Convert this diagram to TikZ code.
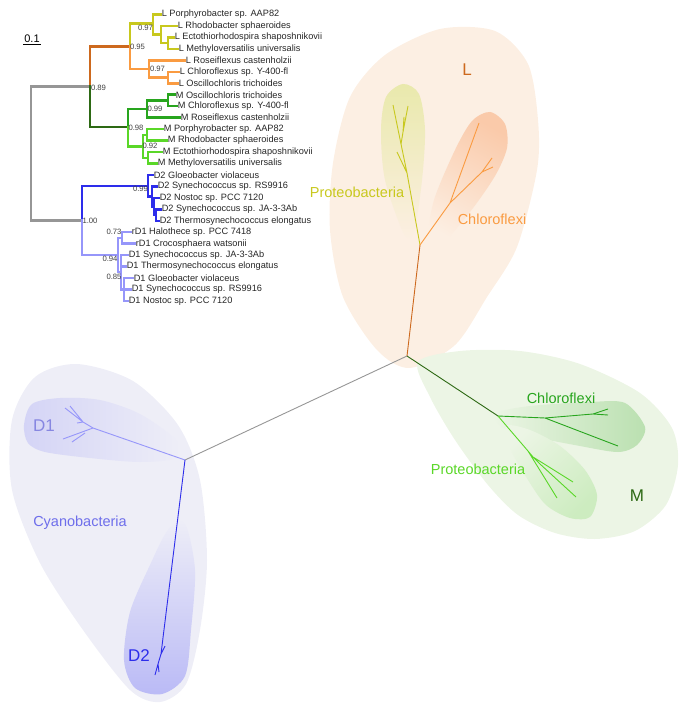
\documentclass[tikz,border=0pt]{standalone}
\usepackage{fontspec}
\setmainfont{Liberation Sans}
% Màu
\definecolor{xam}{RGB}{150,150,150}
\definecolor{Lthan}{RGB}{205,105,30}
\definecolor{Lvang}{RGB}{200,200,30}
\definecolor{Lcam}{RGB}{250,155,65}
\definecolor{Mthan}{RGB}{45,105,20}
\definecolor{Mxanh}{RGB}{40,165,30}
\definecolor{Mla}{RGB}{90,215,40}
\definecolor{Dhai}{RGB}{45,45,235}
\definecolor{Dmot}{RGB}{150,150,250}
\definecolor{Lnen}{RGB}{252,239,227}
\definecolor{Lnenvang}{RGB}{233,233,172}
\definecolor{Lnencam}{RGB}{250,202,170}
\definecolor{Mnen}{RGB}{236,245,229}
\definecolor{Mnenxanh}{RGB}{186,224,176}
\definecolor{Mnenla}{RGB}{205,236,192}
\definecolor{Cnen}{RGB}{238,238,247}
\definecolor{Dnenmot}{RGB}{212,212,246}
\definecolor{Dnenhai}{RGB}{186,186,246}
\begin{document}
\begin{tikzpicture}[x=1pt,y=-1pt,
    nhanh/.style={line width=2.5pt,line cap=rect},
    canh/.style={line width=0.9pt},
    la/.style={anchor=west,inner sep=0.6pt,text=black!85,font=\fontsize{9.2}{10}\selectfont},
    ho/.style={inner sep=0pt,text=black!75,font=\fontsize{7.7}{8}\selectfont},
    nhom/.style={inner sep=0pt,font=\fontsize{14.5}{16}\selectfont},
    chu/.style={inner sep=0pt,font=\fontsize{17}{18}\selectfont}]
    \useasboundingbox (0,0) rectangle (685,711);

    % Các vùng nền
    \fill[Lnen] plot[smooth cycle] coordinates {(410,368) (377,350) (343,297) (330,230) (333,163) (350,97) (385,55) (440,29) (495,31) (528,64) (538,120) (537,170) (517,247) (487,297) (455,345)};
    \shade[top color=Lnenvang,bottom color=Lnen] plot[smooth cycle] coordinates {(403,84) (419,94) (425,130) (422,180) (414,232) (404,234) (385,180) (381,130) (386,97)};
    \shade[top color=Lnencam,bottom color=Lnen,shading angle=-29] plot[smooth cycle] coordinates {(490,112) (505,124) (507,148) (495,176) (470,212) (440,246) (428,240) (434,200) (455,150) (472,121)};
    \fill[Mnen] plot[smooth cycle] coordinates {(418,362) (460,351) (520,351) (580,364) (640,393) (672,428) (678,465) (666,505) (635,531) (595,539) (555,533) (518,515) (488,485) (455,440) (430,397)};
    \shade[left color=Mnen,right color=Mnenxanh] plot[smooth cycle] coordinates {(645,427) (637,445) (618,452) (580,446) (530,436) (500,426) (497,413) (530,406) (590,402) (625,403)};
    \shade[top color=Mnen,bottom color=Mnenla,shading angle=45] plot[smooth cycle] coordinates {(590,517) (570,518) (546,505) (528,480) (511,450) (506,426) (530,430) (560,446) (585,470) (597,495)};
    \fill[Cnen] plot[smooth cycle] coordinates {(77,364) (133,381) (178,425) (200,480) (207,560) (200,630) (186,684) (160,702) (130,690) (83,630) (40,563) (12,490) (12,420) (35,377)};
    \shade[left color=Dnenmot,right color=Cnen] plot[smooth cycle] coordinates {(24,425) (32,404) (60,398) (100,400) (140,414) (176,440) (176,458) (140,462) (90,458) (45,452) (28,443)};
    \shade[top color=Cnen,bottom color=Dnenhai] plot[smooth cycle] coordinates {(162,694) (135,688) (124,660) (130,612) (150,565) (168,530) (185,524) (195,570) (191,630) (185,676)};

    % Cây có gốc: tên các trình tự
    \foreach \i/\x/\ten in {0/161/L Porphyrobacter sp. AAP82,1/177/L Rhodobacter sphaeroides,
        2/174/L Ectothiorhodospira shaposhnikovii,3/178/L Methyloversatilis universalis,
        4/185/L Roseiflexus castenholzii,5/179/L Chloroflexus sp. Y-400-fl,
        6/178/L Oscillochloris trichoides,7/175/M Oscillochloris trichoides,
        8/177/M Chloroflexus sp. Y-400-fl,9/180/M Roseiflexus castenholzii,
        10/163/M Porphyrobacter sp. AAP82,11/167/M Rhodobacter sphaeroides,
        12/162/M Ectothiorhodospira shaposhnikovii,13/157/M Methyloversatilis universalis,
        14/153/D2 Gloeobacter violaceus,15/157/D2 Synechococcus sp. RS9916,
        16/159/D2 Nostoc sp. PCC 7120,17/161/D2 Synechococcus sp. JA-3-3Ab,
        18/159/D2 Thermosynechococcus elongatus,19/131/rD1 Halothece sp. PCC 7418,
        20/135/rD1 Crocosphaera watsonii,21/128/D1 Synechococcus sp. JA-3-3Ab,
        22/126/D1 Thermosynechococcus elongatus,23/133/D1 Gloeobacter violaceus,
        24/131/D1 Synechococcus sp. RS9916,25/128/D1 Nostoc sp. PCC 7120}
    \node[la] (t\i) at (\x,{14.5+11.46*\i}) {\ten};

    % Các nút trong
    \coordinate (r) at (31,153.5);
    \coordinate (nX) at (90,86.7);
    \coordinate (nL) at (130,46.3);
    \coordinate (nLy) at (153,23.7);
    \coordinate (nLy2) at (161,34.6);
    \coordinate (nLy3) at (168,43.2);
    \coordinate (nLo) at (149,69);
    \coordinate (nLo2) at (168,77.5);
    \coordinate (nM) at (128,127);
    \coordinate (nMc) at (147,108.9);
    \coordinate (nMc2) at (168,100.4);
    \coordinate (nMp) at (143,146.3);
    \coordinate (nMp1) at (147,134.8);
    \coordinate (nMp2) at (148,157.8);
    \coordinate (nCy) at (82,220.4);
    \coordinate (nD2) at (148,185.8);
    \coordinate (nD2b) at (152,196.6);
    \coordinate (nD2c) at (154,206.6);
    \coordinate (nD2d) at (156,215.1);
    \coordinate (nD1) at (118,255);
    \coordinate (nrD1) at (122,238);
    \coordinate (nD1b) at (121,272);
    \coordinate (nD1c) at (124,289.5);

    % Vẽ các nhánh
    \foreach \a/\b in {r/nX,r/nCy} \draw[nhanh,xam] (\a) |- (\b);
    \draw[nhanh,Lthan] (nX) |- (nL);
    \draw[nhanh,Mthan] (nX) |- (nM);
    \foreach \a/\b in {nL/nLy,nLy/t0.west,nLy/nLy2,nLy2/t1.west,nLy2/nLy3,nLy3/t2.west,nLy3/t3.west}
    \draw[nhanh,Lvang] (\a) |- (\b);
    \foreach \a/\b in {nL/nLo,nLo/t4.west,nLo/nLo2,nLo2/t5.west,nLo2/t6.west}
    \draw[nhanh,Lcam] (\a) |- (\b);
    \foreach \a/\b in {nM/nMc,nMc/nMc2,nMc2/t7.west,nMc2/t8.west,nMc/t9.west}
    \draw[nhanh,Mxanh] (\a) |- (\b);
    \foreach \a/\b in {nM/nMp,nMp/nMp1,nMp1/t10.west,nMp1/t11.west,nMp/nMp2,nMp2/t12.west,nMp2/t13.west}
    \draw[nhanh,Mla] (\a) |- (\b);
    \foreach \a/\b in {nCy/nD2,nD2/t14.west,nD2/nD2b,nD2b/t15.west,nD2b/nD2c,nD2c/t16.west,nD2c/nD2d,nD2d/t17.west,nD2d/t18.west}
    \draw[nhanh,Dhai] (\a) |- (\b);
    \foreach \a/\b in {nCy/nD1,nD1/nrD1,nrD1/t19.west,nrD1/t20.west,nD1/nD1b,nD1b/t21.west,nD1b/t22.west,nD1b/nD1c,nD1c/t23.west,nD1c/t24.west,nD1c/t25.west}
    \draw[nhanh,Dmot] (\a) |- (\b);

    % Giá trị hỗ trợ
    \node[ho] (s97a) at (145.5,27.7) {0.97};
    \node[ho] (s95) at (137.5,47) {0.95};
    \node[ho] (s97b) at (157.5,69) {0.97};
    \node[ho] (s89) at (98.5,87.7) {0.89};
    \node[ho] (s99a) at (155,108.5) {0.99};
    \node[ho] (s98) at (136,128) {0.98};
    \node[ho] (s92) at (150,146) {0.92};
    \node[ho] (s99b) at (140.5,189) {0.99};
    \node[ho] (s100) at (90,221) {1.00};
    \node[ho] (s73) at (114,232) {0.73};
    \node[ho] (s94) at (110,259) {0.94};
    \node[ho] (s85) at (114,277) {0.85};

    % Thước tỉ lệ
    \node[inner sep=1pt,font=\fontsize{11}{12}\selectfont] (tile) at (32,39) {0.1};
    \draw[line width=0.8pt] (tile.south west) -- (tile.south east);

    % Cây không gốc
    \coordinate (uC) at (407,356);
    \coordinate (uL) at (420,245);
    \coordinate (uM) at (498,416);
    \coordinate (uCy) at (185,460);
    \coordinate (ly1) at (407,173);
    \coordinate (ly2) at (401,144);
    \coordinate (ly3) at (403,132);
    \coordinate (ya) at (393,105);
    \coordinate (yb) at (408,106);
    \coordinate (yc) at (404,117);
    \coordinate (yd) at (397,152);
    \coordinate (lo1) at (450,203);
    \coordinate (lo2) at (482,172);
    \coordinate (oa) at (479,123);
    \coordinate (ob) at (492,158);
    \coordinate (oc) at (493,167);
    \coordinate (mc1) at (545,418);
    \coordinate (mc2) at (593,414);
    \coordinate (ma) at (608,409);
    \coordinate (mb) at (608,415);
    \coordinate (mc) at (618,446);
    \coordinate (mp1) at (528,451);
    \coordinate (mp2) at (533,457);
    \coordinate (mp3) at (540,464);
    \coordinate (pa) at (557,498);
    \coordinate (pb) at (573,482);
    \coordinate (pc) at (576,497);
    \coordinate (d1a) at (93,428);
    \coordinate (d1b) at (83,422);
    \coordinate (d1c) at (85,433);
    \coordinate (da) at (65,408);
    \coordinate (db) at (70,406);
    \coordinate (dc) at (77,423);
    \coordinate (dd) at (63,439);
    \coordinate (de) at (72,442);
    \coordinate (d2a) at (161,654);
    \coordinate (d2b) at (158,664);
    \coordinate (ea) at (165,646);
    \coordinate (eb) at (155,675);
    \coordinate (ec) at (159,672);

    \draw[canh,xam] (uC) -- (uCy);
    \draw[canh,Lthan] (uC) -- (uL);
    \draw[canh,Mthan] (uC) -- (uM);
    \draw[canh,Lvang] (uL) -- (ly1) -- (ly2) -- (ya) (ly1) -- (yd) (ly2) -- (ly3) -- (yb) (ly3) -- (yc);
    \draw[canh,Lcam] (uL) -- (lo1) -- (oa) (lo1) -- (lo2) -- (ob) (lo2) -- (oc);
    \draw[canh,Mxanh] (uM) -- (mc1) -- (mc2) -- (ma) (mc2) -- (mb) (mc1) -- (mc);
    \draw[canh,Mla] (uM) -- (mp1) -- (pa) (mp1) -- (mp2) -- (pb) (mp2) -- (mp3) -- (pc);
    \draw[canh,Dmot] (uCy) -- (d1a) -- (d1b) -- (da) (d1b) -- (db) (d1b) -- (dc) (d1a) -- (dd) (d1c) -- (de);
    \draw[canh,Dhai] (uCy) -- (d2a) -- (ea) (d2a) -- (d2b) -- (eb) (d2b) -- (ec);

    % Nhãn các nhóm
    \node[chu,text=Lthan] (nhanL) at (467,70) {L};
    \node[nhom,text=Lvang] (proL) at (357,192) {Proteobacteria};
    \node[nhom,text=Lcam] (chlL) at (492,219) {Chloroflexi};
    \node[nhom,text=Mxanh] (chlM) at (561,398) {Chloroflexi};
    \node[nhom,text=Mla] (proM) at (478,469) {Proteobacteria};
    \node[chu,text=Mthan] (nhanM) at (637,496) {M};
    \node[chu,text=Dmot!90!black] (nhanD1) at (44,426) {D1};
    \node[nhom,text={rgb,255:red,110;green,110;blue,235}] (cyano) at (80,523) {Cyanobacteria};
    \node[chu,text=Dhai] (nhanD2) at (139,656) {D2};
\end{tikzpicture}
\end{document}
